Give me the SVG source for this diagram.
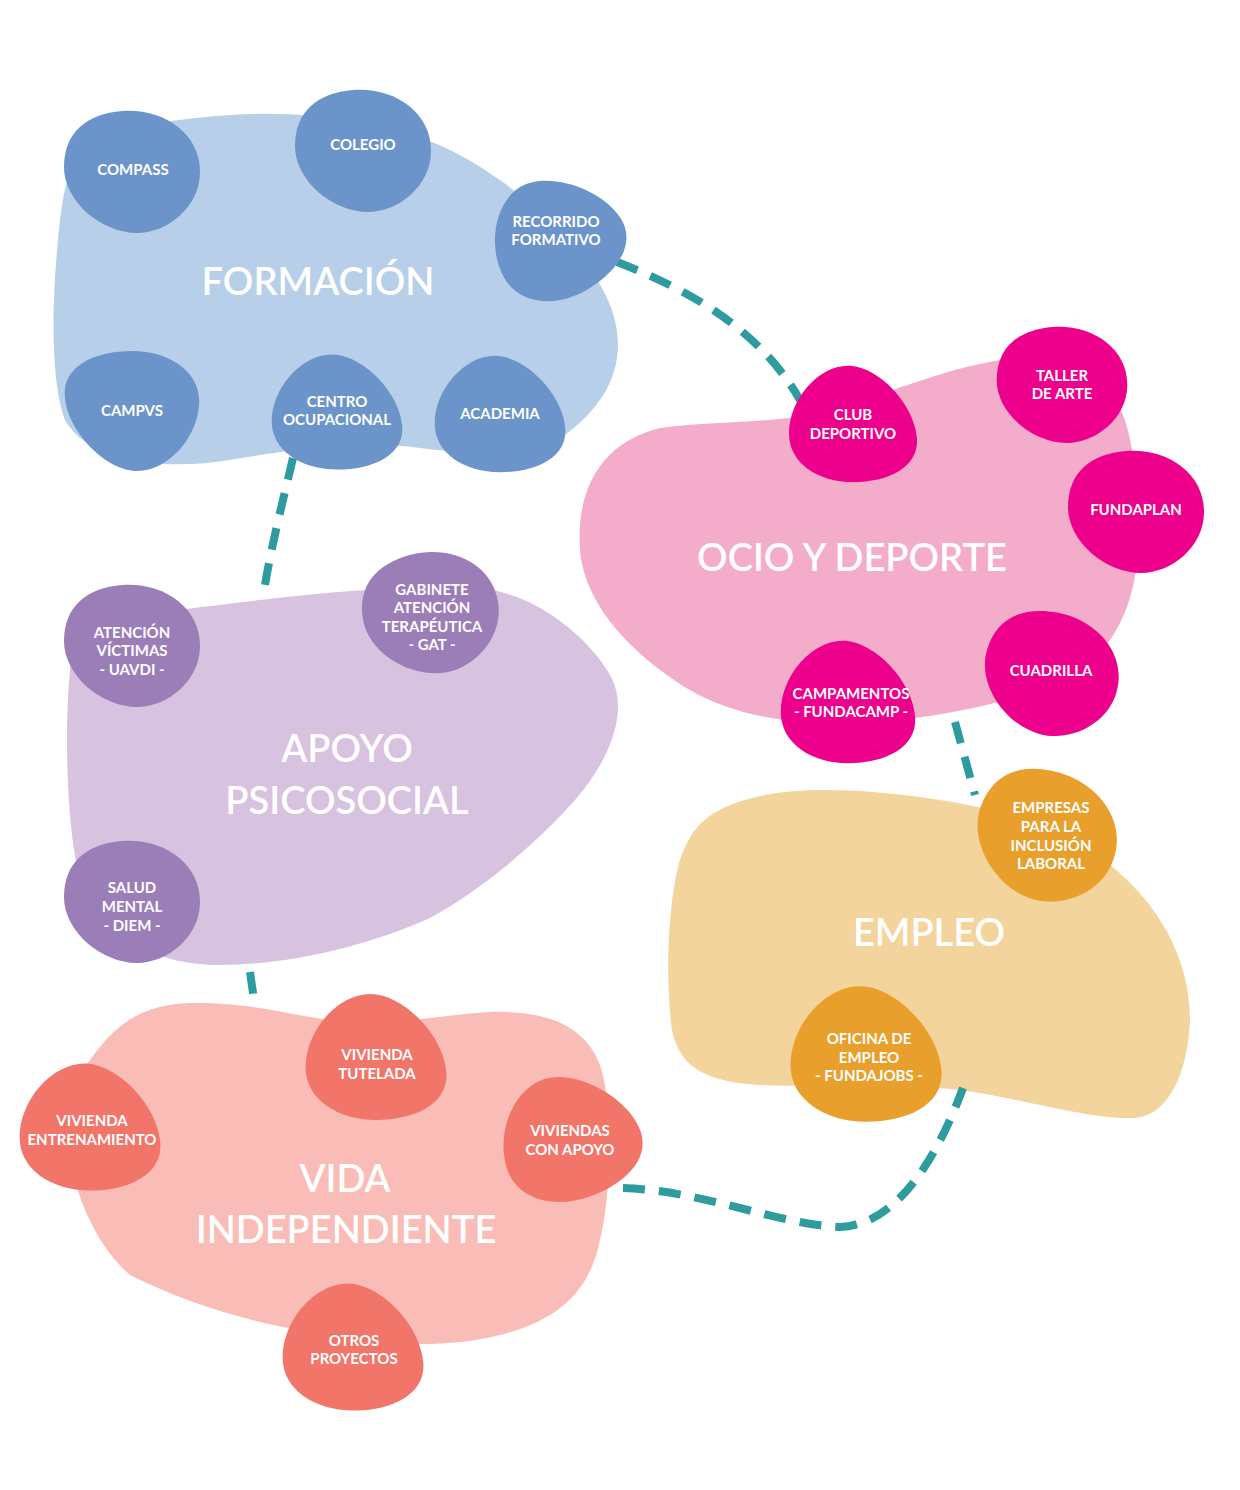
<svg xmlns="http://www.w3.org/2000/svg" xmlns:xlink="http://www.w3.org/1999/xlink" width="1240" height="1490" viewBox="0 0 1240 1490">
<style>
.lbl{font-family:Lato,"Open Sans","Liberation Sans",sans-serif;font-weight:700;font-size:15px;fill:#fff;text-anchor:middle}
.ttl{font-family:Lato,"Open Sans","Liberation Sans",sans-serif;font-weight:600;font-size:38px;fill:#fff;text-anchor:middle}
.con{fill:none;stroke:#2E9B9E;stroke-width:8;stroke-dasharray:22 14}
.fb{fill:#6B94CA}.ob{fill:#EC008C}.ab{fill:#9B7DB8}.eb{fill:#E89F2C}.vb{fill:#F2756A}
</style>
<defs>
<path id="b1" d="M -10 -61 C 30 -64 68 -40 68 0 C 68 35 35 61 5 61 C -30 61 -68 30 -68 -5 C -68 -40 -45 -58 -10 -61 Z"/>
<path id="b2" d="M -5 -60 C 25 -60 62 -20 64 15 C 66 45 35 60 0 60 C -35 60 -64 40 -64 10 C -64 -25 -35 -60 -5 -60 Z"/>
</defs>
<rect width="1240" height="1490" fill="#fff"/>

<g id="formacion">
<path fill="#B8CFEA" d="M 75 165 C 95 130 160 120 230 115 C 300 110 390 120 450 150 C 520 185 590 250 612 310 C 630 365 605 405 565 435 C 530 455 470 455 420 448 C 360 440 290 450 230 460 C 170 470 90 465 65 420 C 50 380 52 300 58 240 C 62 200 65 180 75 165 Z"/>
<text class="ttl" x="318" y="295">FORMACIÓN</text>
</g>
<g id="ocio">
<path fill="#F4ACCB" d="M 660 428 C 720 420 790 425 850 405 C 910 385 980 355 1040 358 C 1100 360 1125 400 1132 450 C 1142 520 1145 590 1110 640 C 1075 690 980 710 900 720 C 820 730 740 720 690 690 C 640 660 585 610 580 550 C 575 480 610 440 660 428 Z"/>
<text class="ttl" x="852" y="571">OCIO Y DEPORTE</text>
</g>
<g id="apoyo">
<path fill="#D7C2DF" d="M 75 640 C 110 615 180 610 260 600 C 340 590 420 585 480 588 C 540 595 590 640 610 675 C 630 710 610 760 575 800 C 530 850 480 890 430 918 C 370 945 290 965 220 965 C 160 965 100 940 80 880 C 65 820 65 720 70 670 C 72 655 73 645 75 640 Z"/>
<text class="ttl" x="347" y="762">APOYO</text>
<text class="ttl" x="347" y="814">PSICOSOCIAL</text>
</g>
<g id="empleo">
<path fill="#F3D49C" d="M 730 805 C 780 785 850 788 920 797 C 1000 808 1060 825 1110 865 C 1160 905 1190 960 1190 1020 C 1188 1070 1170 1115 1135 1118 C 1090 1120 1020 1098 960 1090 C 900 1083 820 1088 760 1085 C 710 1082 680 1070 672 1030 C 665 980 668 900 680 860 C 690 830 705 815 730 805 Z"/>
<text class="ttl" x="929" y="946">EMPLEO</text>
</g>
<g id="vida">
<path fill="#FABCB6" d="M 90 1060 C 115 1025 140 1005 190 1003 C 250 1002 290 1015 330 1020 C 390 1027 440 1015 490 1012 C 545 1010 585 1025 600 1065 C 615 1110 610 1200 600 1240 C 590 1290 560 1320 500 1335 C 440 1350 370 1345 300 1330 C 240 1320 180 1300 130 1275 C 90 1240 70 1180 65 1130 C 62 1100 75 1080 90 1060 Z"/>
<text class="ttl" x="345" y="1192">VIDA</text>
<text class="ttl" x="346" y="1243">INDEPENDIENTE</text>
</g>

<g id="connectors">
<path class="con" d="M 617 262 C 690 290 760 330 800 400"/>
<path class="con" d="M 293 458 C 282 505 270 550 263 598"/>
<path class="con" d="M 250 972 L 254 1000"/>
<path class="con" d="M 955 722 L 975 795"/>
<path class="con" d="M 623 1188 C 700 1190 780 1225 840 1227 C 900 1225 940 1150 963 1088"/>
</g>

<g id="compass"><use href="#b1" class="fb" transform="translate(132 172)"/><text class="lbl" x="133" y="175">COMPASS</text></g>
<g id="colegio"><use href="#b1" class="fb" transform="translate(363 151)"/><text class="lbl" x="363" y="149.5">COLEGIO</text></g>
<g id="recorrido"><use href="#b2" class="fb" transform="translate(556 237) rotate(-30) scale(1.02)"/><text class="lbl" x="556" y="226.5">RECORRIDO</text><text class="lbl" x="556" y="244.5">FORMATIVO</text></g>
<g id="campvs"><use href="#b2" class="fb" transform="translate(132 411) rotate(180) scale(1.05 1)"/><text class="lbl" x="132" y="415.5">CAMPVS</text></g>
<g id="centro"><use href="#b2" class="fb" transform="translate(337 412) scale(1.02 0.96)"/><text class="lbl" x="337" y="406.5">CENTRO</text><text class="lbl" x="337" y="424.5">OCUPACIONAL</text></g>
<g id="academia"><use href="#b2" class="fb" transform="translate(500 414) scale(1.02 0.97)"/><text class="lbl" x="500" y="418.5">ACADEMIA</text></g>

<g id="club"><use href="#b2" class="ob" transform="translate(853 424) scale(1.0 0.97)"/><text class="lbl" x="853" y="419.5">CLUB</text><text class="lbl" x="853" y="438.5">DEPORTIVO</text></g>
<g id="taller"><use href="#b1" class="ob" transform="translate(1062 385) scale(0.96 0.95)"/><text class="lbl" x="1062" y="380.5">TALLER</text><text class="lbl" x="1062" y="398.5">DE ARTE</text></g>
<g id="fundaplan"><use href="#b1" class="ob" transform="translate(1136 512)"/><text class="lbl" x="1136" y="514.5">FUNDAPLAN</text></g>
<g id="campamentos"><use href="#b2" class="ob" transform="translate(848 702) scale(1.05 1.02)"/><text class="lbl" x="851" y="698.5">CAMPAMENTOS</text><text class="lbl" x="851" y="716.5">- FUNDACAMP -</text></g>
<g id="cuadrilla"><use href="#b1" class="ob" transform="translate(1051 674) rotate(15)"/><text class="lbl" x="1051" y="675.5">CUADRILLA</text></g>

<g id="uavdi"><use href="#b1" class="ab" transform="translate(132 646)"/><text class="lbl" x="132" y="637.5">ATENCIÓN</text><text class="lbl" x="132" y="655.5">VÍCTIMAS</text><text class="lbl" x="132" y="674.5">- UAVDI -</text></g>
<g id="gat"><use href="#b1" class="ab" transform="translate(431 613) rotate(-10)"/><text class="lbl" x="432" y="594.5">GABINETE</text><text class="lbl" x="432" y="612.5">ATENCIÓN</text><text class="lbl" x="432" y="631.5">TERAPÉUTICA</text><text class="lbl" x="432" y="649.5">- GAT -</text></g>
<g id="diem"><use href="#b1" class="ab" transform="translate(132 902)"/><text class="lbl" x="132" y="892.5">SALUD</text><text class="lbl" x="132" y="911.5">MENTAL</text><text class="lbl" x="132" y="930.5">- DIEM -</text></g>

<g id="empresas"><use href="#b1" class="eb" transform="translate(1046 836) rotate(20) scale(1.05)"/><text class="lbl" x="1051" y="812.5">EMPRESAS</text><text class="lbl" x="1051" y="831.5">PARA LA</text><text class="lbl" x="1051" y="850.5">INCLUSIÓN</text><text class="lbl" x="1051" y="868.5">LABORAL</text></g>
<g id="oficina"><use href="#b2" class="eb" transform="translate(866 1054) scale(1.18 1.13)"/><text class="lbl" x="869" y="1043.5">OFICINA DE</text><text class="lbl" x="869" y="1062.5">EMPLEO</text><text class="lbl" x="869" y="1080.5">- FUNDAJOBS -</text></g>

<g id="tutelada"><use href="#b2" class="vb" transform="translate(376 1057) scale(1.1 1.05)"/><text class="lbl" x="377" y="1059.5">VIVIENDA</text><text class="lbl" x="377" y="1078.5">TUTELADA</text></g>
<g id="entrenamiento"><use href="#b2" class="vb" transform="translate(90 1127) scale(1.1 1.06)"/><text class="lbl" x="92" y="1125.5">VIVIENDA</text><text class="lbl" x="92" y="1144.5">ENTRENAMIENTO</text></g>
<g id="conapoyo"><use href="#b2" class="vb" transform="translate(569 1137) rotate(-20) scale(1.08 1.05)"/><text class="lbl" x="570" y="1135.5">VIVIENDAS</text><text class="lbl" x="570" y="1154.5">CON APOYO</text></g>
<g id="otros"><use href="#b2" class="vb" transform="translate(353 1347) scale(1.1 1.06)"/><text class="lbl" x="354" y="1345.5">OTROS</text><text class="lbl" x="354" y="1363.5">PROYECTOS</text></g>
</svg>
